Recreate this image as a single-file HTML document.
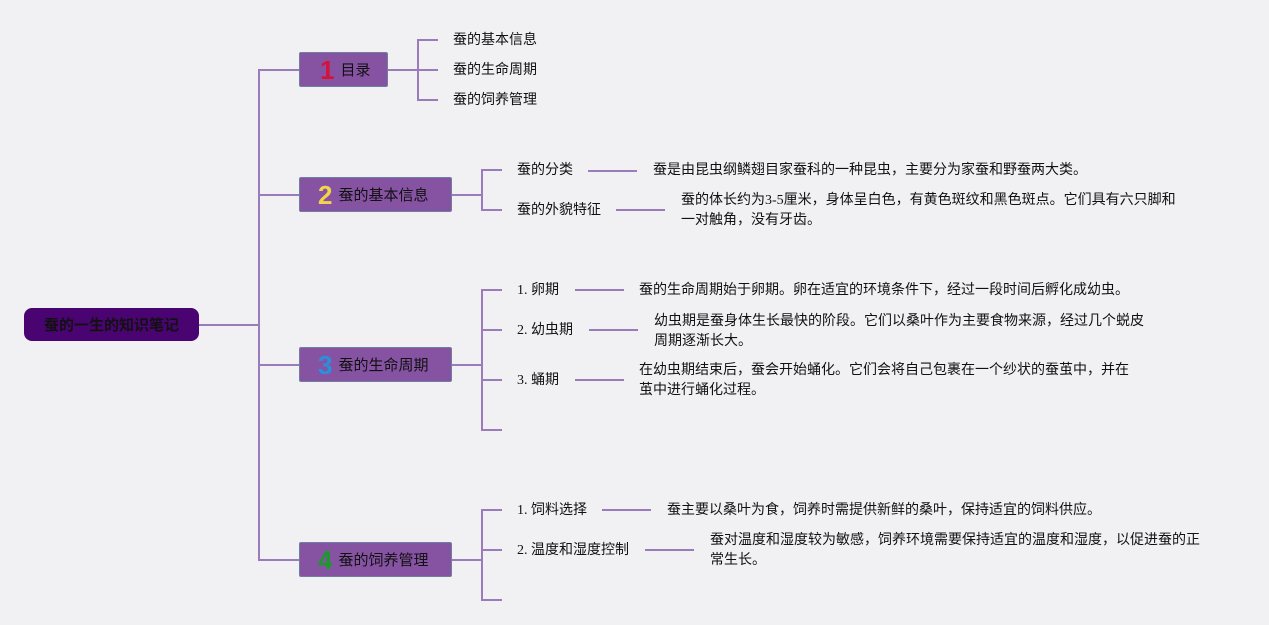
<!DOCTYPE html>
<html><head><meta charset="utf-8"><style>
body{margin:0;width:1269px;height:625px;background:#f1f0f3;position:relative;overflow:hidden;font-family:"Liberation Serif","Noto Sans CJK SC",sans-serif;font-size:14px;color:#111}
.l{position:absolute;background:#9a7cba}
.h{height:2px}.v{width:2px}
.t{position:absolute;white-space:nowrap;line-height:20px}
.box{position:absolute;background:#8653a3;border:1px solid #6f7f9f;border-radius:2px;box-sizing:border-box;height:35px;line-height:33px;font-family:"Noto Sans CJK SC",sans-serif;font-size:15px;color:#111;padding-left:20px}
.n{font-family:"Liberation Sans",sans-serif;font-weight:bold;font-size:26px;vertical-align:-4px;margin-right:6px}
.root{position:absolute;left:24px;top:308px;width:175px;height:33px;background:#4a0471;border-radius:8px;font-family:"Noto Sans CJK SC",sans-serif;font-weight:bold;font-size:15px;line-height:33px;text-align:center;color:#111}
</style></head><body>
<div class="root">蚕的一生的知识笔记</div>
<div class="l h" style="left:199px;top:324px;width:60px"></div>
<div class="l v" style="left:258px;top:69px;height:492px"></div>
<div class="l h" style="left:258px;top:69px;width:41px"></div>
<div class="l h" style="left:258px;top:194px;width:41px"></div>
<div class="l h" style="left:258px;top:364px;width:41px"></div>
<div class="l h" style="left:258px;top:559px;width:41px"></div>

<div class="box" style="left:299px;top:52px;width:89px"><span class="n" style="color:#d5123a">1</span>目录</div>
<div class="box" style="left:299px;top:177px;width:153px;padding-left:18px"><span class="n" style="color:#f2d44a">2</span>蚕的基本信息</div>
<div class="box" style="left:299px;top:347px;width:153px;padding-left:18px"><span class="n" style="color:#2a90dc">3</span>蚕的生命周期</div>
<div class="box" style="left:299px;top:542px;width:153px;padding-left:18px"><span class="n" style="color:#1a9a2a">4</span>蚕的饲养管理</div>

<!-- box1 -->
<div class="l h" style="left:388px;top:69px;width:30px"></div>
<div class="l v" style="left:417px;top:39px;height:62px"></div>
<div class="l h" style="left:417px;top:39px;width:21px"></div>
<div class="l h" style="left:417px;top:69px;width:21px"></div>
<div class="l h" style="left:417px;top:99px;width:21px"></div>
<div class="t" style="left:453px;top:31px">蚕的基本信息</div>
<div class="t" style="left:453px;top:61px">蚕的生命周期</div>
<div class="t" style="left:453px;top:91px">蚕的饲养管理</div>

<!-- box2 -->
<div class="l h" style="left:452px;top:194px;width:30px"></div>
<div class="l v" style="left:481px;top:169px;height:42px"></div>
<div class="l h" style="left:481px;top:169px;width:21px"></div>
<div class="l h" style="left:481px;top:209px;width:21px"></div>
<div class="t" style="left:517px;top:161px">蚕的分类</div>
<div class="l h" style="left:588px;top:170px;width:49px"></div>
<div class="t" style="left:653px;top:161px">蚕是由昆虫纲鳞翅目家蚕科的一种昆虫，主要分为家蚕和野蚕两大类。</div>
<div class="t" style="left:517px;top:201px">蚕的外貌特征</div>
<div class="l h" style="left:616px;top:209px;width:49px"></div>
<div class="t" style="left:681px;top:191px">蚕的体长约为3-5厘米，身体呈白色，有黄色斑纹和黑色斑点。它们具有六只脚和<br>一对触角，没有牙齿。</div>

<!-- box3 -->
<div class="l h" style="left:452px;top:364px;width:30px"></div>
<div class="l v" style="left:481px;top:289px;height:142px"></div>
<div class="l h" style="left:481px;top:289px;width:21px"></div>
<div class="l h" style="left:481px;top:329px;width:21px"></div>
<div class="l h" style="left:481px;top:379px;width:21px"></div>
<div class="l h" style="left:481px;top:429px;width:21px"></div>
<div class="t" style="left:517px;top:281px">1. 卵期</div>
<div class="l h" style="left:575px;top:289px;width:49px"></div>
<div class="t" style="left:639px;top:281px">蚕的生命周期始于卵期。卵在适宜的环境条件下，经过一段时间后孵化成幼虫。</div>
<div class="t" style="left:517px;top:321px">2. 幼虫期</div>
<div class="l h" style="left:589px;top:329px;width:49px"></div>
<div class="t" style="left:654px;top:312px">幼虫期是蚕身体生长最快的阶段。它们以桑叶作为主要食物来源，经过几个蜕皮<br>周期逐渐长大。</div>
<div class="t" style="left:517px;top:371px">3. 蛹期</div>
<div class="l h" style="left:575px;top:379px;width:49px"></div>
<div class="t" style="left:639px;top:361px">在幼虫期结束后，蚕会开始蛹化。它们会将自己包裹在一个纱状的蚕茧中，并在<br>茧中进行蛹化过程。</div>

<!-- box4 -->
<div class="l h" style="left:452px;top:559px;width:30px"></div>
<div class="l v" style="left:481px;top:509px;height:92px"></div>
<div class="l h" style="left:481px;top:509px;width:21px"></div>
<div class="l h" style="left:481px;top:549px;width:21px"></div>
<div class="l h" style="left:481px;top:599px;width:21px"></div>
<div class="t" style="left:517px;top:501px">1. 饲料选择</div>
<div class="l h" style="left:602px;top:509px;width:49px"></div>
<div class="t" style="left:667px;top:501px">蚕主要以桑叶为食，饲养时需提供新鲜的桑叶，保持适宜的饲料供应。</div>
<div class="t" style="left:517px;top:541px">2. 温度和湿度控制</div>
<div class="l h" style="left:645px;top:549px;width:49px"></div>
<div class="t" style="left:710px;top:531px">蚕对温度和湿度较为敏感，饲养环境需要保持适宜的温度和湿度，以促进蚕的正<br>常生长。</div>
</body></html>
